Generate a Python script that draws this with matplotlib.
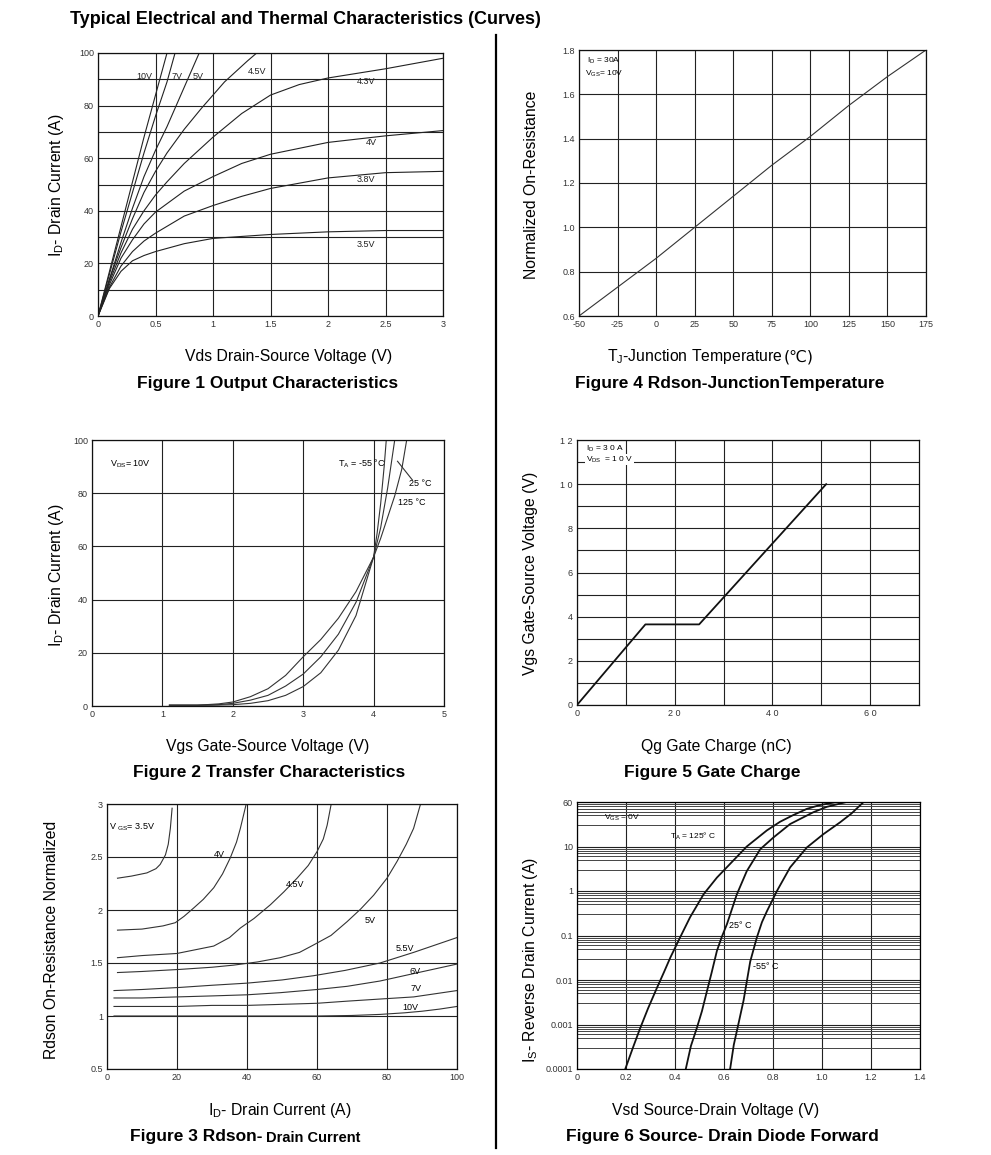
import numpy as np
import matplotlib
matplotlib.use('Agg')
import matplotlib.pyplot as plt
from matplotlib.ticker import FixedLocator, NullFormatter

plt.rcParams['font.family'] = ['Liberation Sans', 'DejaVu Sans']
plt.rcParams['mathtext.fontset'] = 'custom'
plt.rcParams['mathtext.rm'] = 'Liberation Sans'
plt.rcParams['mathtext.it'] = 'Liberation Sans'
plt.rcParams['axes.unicode_minus'] = False

W, H = 991, 1155

# ---- Figure 1: output characteristics (Vds, Id) per Vgs ----
out_curves = {
    '10V': ([0, 0.1, 0.2, 0.3, 0.4, 0.5, 0.6], [0, 17, 34, 51, 68, 84, 100]),
    '7V': ([0, 0.1, 0.2, 0.3, 0.4, 0.5, 0.6, 0.67], [0, 16, 32, 47, 62, 76, 89, 100]),
    '5V': ([0, 0.1, 0.2, 0.3, 0.4, 0.5, 0.6, 0.7, 0.8, 0.88], [0, 14, 28, 41, 53, 63, 72, 82, 92, 100]),
    '4.5V': ([0, 0.1, 0.2, 0.3, 0.4, 0.5, 0.6, 0.75, 0.9, 1.0, 1.1, 1.2, 1.3, 1.38],
             [0, 14, 26, 37, 47, 55, 62, 71, 79, 84, 89, 93, 97, 100]),
    '4.3V': ([0, 0.1, 0.2, 0.3, 0.4, 0.5, 0.6, 0.75, 1.0, 1.25, 1.5, 1.75, 2.0, 2.5, 3.0],
             [0, 13, 24, 33, 40, 46, 51, 58, 68, 77, 84, 88, 90.5, 94, 98]),
    '4V': ([0, 0.1, 0.2, 0.3, 0.4, 0.5, 0.75, 1.0, 1.25, 1.5, 2.0, 2.5, 3.0],
           [0, 12, 22, 29, 35, 39.5, 47.5, 53, 58, 61.5, 66, 68.5, 70.5]),
    '3.8V': ([0, 0.1, 0.2, 0.3, 0.4, 0.5, 0.75, 1.0, 1.25, 1.5, 2.0, 2.5, 3.0],
             [0, 11, 19, 24.5, 28.5, 31.5, 38, 42, 45.5, 48.5, 52.5, 54.5, 55]),
    '3.5V': ([0, 0.1, 0.2, 0.3, 0.4, 0.5, 0.75, 1.0, 1.5, 2.0, 2.5, 3.0],
             [0, 10.5, 17, 21, 23, 24.5, 27.5, 29.5, 31, 32, 32.5, 32.5]),
}
out_labels = {'10V': (0.33, 91), '7V': (0.64, 91), '5V': (0.82, 91), '4.5V': (1.3, 93),
              '4.3V': (2.25, 89), '4V': (2.33, 66), '3.8V': (2.25, 52), '3.5V': (2.25, 27)}

# ---- Figure 4: normalized Rdson vs junction temperature ----
tj = [-50, -25, 0, 25, 50, 75, 100, 125, 150, 175]
rdson_norm = [0.6, 0.73, 0.86, 1.0, 1.14, 1.28, 1.41, 1.55, 1.68, 1.8]

# ---- Figure 2: transfer characteristics (Vgs, Id) per temperature ----
tr_curves = {
    '125': ([1.1, 1.5, 1.8, 2.0, 2.25, 2.5, 2.75, 3.0, 3.25, 3.5, 3.75, 4.0, 4.1, 4.2, 4.3, 4.4, 4.47],
            [0.3, 0.3, 0.8, 1.5, 3.5, 6.5, 11.5, 18.5, 25, 33, 43, 56, 63, 71, 79, 89, 100]),
    '25': ([1.1, 1.5, 1.8, 2.0, 2.25, 2.5, 2.75, 3.0, 3.25, 3.5, 3.75, 4.0, 4.1, 4.2, 4.3],
           [0.3, 0.3, 0.5, 1.0, 2.2, 4.0, 7.5, 12, 18.5, 27, 39, 56, 67, 82, 100]),
    '-55': ([1.1, 1.7, 2.0, 2.25, 2.5, 2.75, 3.0, 3.25, 3.5, 3.75, 4.0, 4.05, 4.1, 4.15, 4.18],
            [0.3, 0.3, 0.5, 1.0, 2.0, 4.0, 7.3, 12.5, 21, 34, 56, 65, 76, 90, 100]),
}

# ---- Figure 5: gate charge ----
qg = [0, 14, 25, 51]
vgs_qg = [0, 3.65, 3.65, 10]

# ---- Figure 3: Rdson vs drain current per Vgs ----
rd_curves = {
    '3.5V': ([3, 7, 11.4, 14, 15.2, 16.7, 17.5, 18.1, 18.6], [2.30, 2.32, 2.35, 2.39, 2.43, 2.52, 2.62, 2.77, 2.96]),
    '4V': ([3, 10, 16, 19.5, 22, 24.8, 27.5, 30.5, 33, 35.2, 37, 38.1, 39.7],
           [1.81, 1.82, 1.85, 1.88, 1.94, 2.02, 2.10, 2.21, 2.34, 2.49, 2.64, 2.77, 2.99]),
    '4.5V': ([3, 10, 20, 26, 30.5, 35, 38.1, 42, 46.7, 50.5, 54.3, 57.5, 60, 61.8, 62.9, 64],
             [1.55, 1.57, 1.59, 1.63, 1.66, 1.74, 1.83, 1.92, 2.05, 2.17, 2.30, 2.42, 2.55, 2.67, 2.80, 2.99]),
    '5V': ([3, 10, 21, 30, 36.2, 43, 49.5, 55, 59, 64, 68.6, 72.5, 76.2, 80, 82.9, 85.5, 87.6, 89.5],
           [1.41, 1.42, 1.44, 1.46, 1.48, 1.51, 1.55, 1.60, 1.67, 1.76, 1.89, 2.01, 2.14, 2.30, 2.46, 2.62, 2.77, 2.99]),
    '5.5V': ([2, 10, 21, 30, 40, 50, 59, 68, 78, 87.6, 100], [1.24, 1.25, 1.27, 1.29, 1.31, 1.34, 1.38, 1.43, 1.50, 1.60, 1.74]),
    '6V': ([2, 10, 20, 30.5, 40, 49.5, 60, 68.6, 78, 87.6, 100], [1.17, 1.17, 1.18, 1.19, 1.20, 1.22, 1.25, 1.28, 1.33, 1.40, 1.49]),
    '7V': ([2, 10, 20, 30, 40, 50, 60, 68.6, 78, 87.6, 100], [1.09, 1.09, 1.09, 1.10, 1.10, 1.11, 1.12, 1.14, 1.16, 1.18, 1.24]),
    '10V': ([2, 20, 40, 50, 60, 70, 78, 85, 90, 95, 100], [1.0, 1.0, 1.0, 1.0, 1.0, 1.005, 1.015, 1.03, 1.045, 1.065, 1.09]),
}
rd_labels = {'4V': (30.5, 2.52), '4.5V': (51, 2.24), '5V': (73.5, 1.9), '5.5V': (82.5, 1.64),
             '6V': (86.5, 1.42), '7V': (86.8, 1.26), '10V': (84.5, 1.08)}

# ---- Figure 6: source-drain diode forward (Vsd, Is) ----
diode_curves = {
    '125': ([0.197, 0.23, 0.258, 0.29, 0.326, 0.355, 0.381, 0.421, 0.462, 0.517, 0.571, 0.639, 0.693, 0.775, 0.829, 0.88, 0.938, 0.99, 1.06],
            [1e-4, 3.2e-4, 8.3e-4, 2.3e-3, 6.6e-3, 1.5e-2, 3.2e-2, 0.091, 0.26, 0.85, 2.0, 4.9, 10, 23, 36, 50, 70, 85, 100]),
    '25': ([0.444, 0.465, 0.489, 0.51, 0.530, 0.55, 0.571, 0.59, 0.612, 0.652, 0.693, 0.748, 0.802, 0.87, 0.965, 1.02, 1.1],
           [1e-4, 3.3e-4, 8.3e-4, 2.0e-3, 5.5e-3, 0.015, 0.045, 0.09, 0.18, 0.83, 2.8, 8.7, 16, 32, 59, 78, 100]),
    '-55': ([0.625, 0.64, 0.66, 0.68, 0.707, 0.734, 0.755, 0.775, 0.816, 0.87, 0.938, 1.006, 1.074, 1.12, 1.17],
            [1e-4, 3.5e-4, 1.1e-3, 3.5e-3, 0.026, 0.09, 0.2, 0.35, 1.0, 3.4, 9.5, 19, 35, 55, 100]),
}


def rect(l, t, r, b):
    return [l / W, 1 - b / H, (r - l) / W, (b - t) / H]


def style(ax, fs=6.5):
    for s in ax.spines.values():
        s.set_linewidth(0.9)
        s.set_color('#111111')
    ax.tick_params(which='both', length=0, labelsize=fs, colors='#333333', pad=3)
    ax.grid(which='both', color='#222222', linewidth=0.8)
    ax.set_axisbelow(True)


fig = plt.figure(figsize=(W / 100, H / 100), dpi=100)

lw = 0.8
cap = dict(fontsize=12.5, fontweight='bold', ha='center', va='center')
lab = dict(fontsize=11.3, ha='center', va='center')

# Figure 1
ax1 = fig.add_axes(rect(98, 53, 443, 316))
style(ax1)
for k, (x, y) in out_curves.items():
    ax1.plot(x, y, color='#222222', lw=lw)
    ax1.text(*out_labels[k], k, fontsize=6.5, ha='left', va='center', color='#222222')
ax1.set_xlim(0, 3)
ax1.set_ylim(0, 100)
ax1.set_xticks(np.arange(0, 3.01, 0.5))
ax1.set_xticklabels(['0', '0.5', '1', '1.5', '2', '2.5', '3'])
ax1.set_yticks([0, 20, 40, 60, 80, 100])
ax1.yaxis.set_minor_locator(FixedLocator([10, 30, 50, 70, 90]))
fig.text(57 / W, 1 - 185 / H, r'I$_\mathregular{D}$- Drain Current (A)', rotation=90, **lab)
fig.text(289 / W, 1 - 357 / H, 'Vds Drain-Source Voltage (V)', **lab)
fig.text(268 / W, 1 - 383 / H, 'Figure 1 Output Characteristics', **cap)

# Figure 4
ax4 = fig.add_axes(rect(579, 50, 926, 316))
style(ax4)
ax4.plot(tj, rdson_norm, color='#333333', lw=lw)
ax4.set_xlim(-50, 175)
ax4.set_ylim(0.6, 1.8)
ax4.set_xticks(tj)
ax4.set_yticks(np.round(np.arange(0.6, 1.81, 0.2), 1))
ax4.set_yticklabels(['0.6', '0.8', '1.0', '1.2', '1.4', '1.6', '1.8'])
ax4.text(-45, 1.75, r'I$_\mathregular{D}$ = 30A', fontsize=6, va='center')
ax4.text(-46, 1.69, r'V$_\mathregular{GS}$= 10V', fontsize=6, va='center')
fig.text(531 / W, 1 - 185 / H, 'Normalized On-Resistance', rotation=90, **lab)
tj_lab = fig.text(607 / W, 1 - 357 / H, r'T$_\mathregular{J}$-Junction Temperature', fontsize=11.3,
                  ha='left', va='center')
fig.text(730 / W, 1 - 383 / H, 'Figure 4 Rdson-JunctionTemperature', **cap)

# Figure 2
ax2 = fig.add_axes(rect(92, 440, 444, 706))
style(ax2)
for k, (x, y) in tr_curves.items():
    ax2.plot(x, y, color='#333333', lw=lw)
ax2.set_xlim(0, 5)
ax2.set_ylim(0, 100)
ax2.set_xticks([0, 1, 2, 3, 4, 5])
ax2.set_yticks([0, 20, 40, 60, 80, 100])
ax2.text(0.25, 91, r'V$_\mathregular{DS}$= 10V', fontsize=6.5, va='center')
ax2.text(4.17, 91, r'T$_\mathregular{A}$ = -55 °C', fontsize=6.5, va='center', ha='right')
ax2.plot([4.34, 4.55], [92, 85], color='#333333', lw=0.8)
ax2.text(4.5, 83.5, '25 °C', fontsize=6.5, va='center')
ax2.text(4.35, 76.5, '125 °C', fontsize=6.5, va='center')
fig.text(57 / W, 1 - 575 / H, r'I$_\mathregular{D}$- Drain Current (A)', rotation=90, **lab)
fig.text(268 / W, 1 - 746 / H, 'Vgs Gate-Source Voltage (V)', **lab)
fig.text(269 / W, 1 - 772 / H, 'Figure 2 Transfer Characteristics', **cap)

# Figure 5
ax5 = fig.add_axes(rect(577, 440, 919, 705))
style(ax5)
ax5.plot(qg, vgs_qg, color='#111111', lw=1.3)
ax5.set_xlim(0, 70)
ax5.set_ylim(0, 12)
ax5.set_xticks([0, 20, 40, 60])
ax5.set_xticklabels(['0', '2 0', '4 0', '6 0'])
ax5.xaxis.set_minor_locator(FixedLocator([10, 30, 50]))
ax5.set_yticks([0, 2, 4, 6, 8, 10, 12])
ax5.set_yticklabels(['0', '2', '4', '6', '8', '1 0', '1 2'])
ax5.yaxis.set_minor_locator(FixedLocator([1, 3, 5, 7, 9, 11]))
ax5.text(1.8, 11.6, r'I$_\mathregular{D}$ = 3 0 A', fontsize=6, va='center')
ax5.text(1.8, 11.1, r'V$_\mathregular{DS}$  = 1 0 V', fontsize=6, va='center',
         bbox=dict(facecolor='white', edgecolor='none', pad=0.3))
fig.text(531 / W, 1 - 573 / H, 'Vgs Gate-Source Voltage (V)', rotation=90, **lab)
fig.text(716 / W, 1 - 746 / H, 'Qg Gate Charge (nC)', **lab)
fig.text(712 / W, 1 - 772 / H, 'Figure 5 Gate Charge', **cap)

# Figure 3
ax3 = fig.add_axes(rect(107, 804, 457, 1069))
style(ax3)
for k, (x, y) in rd_curves.items():
    ax3.plot(x, y, color='#333333', lw=lw)
    if k in rd_labels:
        ax3.text(*rd_labels[k], k, fontsize=6.5, va='center')
ax3.text(0.5, 2.78, r'V $_\mathregular{GS}$= 3.5V', fontsize=6.5, va='center')
ax3.set_xlim(0, 100)
ax3.set_ylim(0.5, 3)
ax3.set_xticks([0, 20, 40, 60, 80, 100])
ax3.set_yticks([0.5, 1, 1.5, 2, 2.5, 3])
ax3.set_yticklabels(['0.5', '1', '1.5', '2', '2.5', '3'])
fig.text(52 / W, 1 - 940 / H, 'Rdson On-Resistance Normalized', rotation=90, **lab)
fig.text(280 / W, 1 - 1110 / H, r'I$_\mathregular{D}$- Drain Current (A)', **lab)
f3 = fig.text(130 / W, 1 - 1137 / H, 'Figure 3 Rdson-', fontsize=12.5, fontweight='bold', ha='left', va='center')

# Figure 6
ax6 = fig.add_axes(rect(577, 802, 920, 1069))
for s in ax6.spines.values():
    s.set_linewidth(0.9)
ax6.set_yscale('log')
for k, (x, y) in diode_curves.items():
    ax6.plot(x, y, color='#111111', lw=1.3)
ax6.set_xlim(0, 1.4)
ax6.set_ylim(1e-4, 100)
ax6.set_xticks(np.round(np.arange(0, 1.41, 0.2), 1))
ax6.set_xticklabels(['0', '0.2', '0.4', '0.6', '0.8', '1.0', '1.2', '1.4'])
ax6.yaxis.set_major_locator(FixedLocator([1e-4, 1e-3, 1e-2, 1e-1, 1, 10, 100]))
ax6.set_yticklabels(['0.0001', '0.001', '0.01', '0.1', '1', '10', '60'])
minor = [m * 10.0 ** d for d in range(-4, 2) for m in (3, 5, 6, 7, 8, 9)]
ax6.yaxis.set_minor_locator(FixedLocator(minor))
ax6.yaxis.set_minor_formatter(NullFormatter())
ax6.tick_params(which='both', length=0, labelsize=6.5, colors='#333333', pad=3)
ax6.grid(which='major', color='#222222', linewidth=0.8)
ax6.grid(which='minor', axis='y', color='#444444', linewidth=0.7)
ax6.set_axisbelow(True)
ax6.text(0.11, 45, r'V$_\mathregular{GS}$ = 0V', fontsize=6, va='center')
ax6.text(0.38, 16.5, r'T$_\mathregular{A}$ = 125° C', fontsize=6, va='center')
ax6.text(0.62, 0.17, '25° C', fontsize=6.5, va='center')
ax6.text(0.72, 0.02, '-55° C', fontsize=6.5, va='center')
fig.text(531 / W, 1 - 960 / H, r'I$_\mathregular{S}$- Reverse Drain Current (A)', rotation=90, **lab)
fig.text(716 / W, 1 - 1110 / H, 'Vsd Source-Drain Voltage (V)', **lab)
fig.text(722 / W, 1 - 1137 / H, 'Figure 6 Source- Drain Diode Forward', **cap)

# page title and divider
fig.text(70 / W, 1 - 20 / H, 'Typical Electrical and Thermal Characteristics (Curves)',
         fontsize=13, fontweight='bold', ha='left', va='center')
fig.add_artist(plt.Line2D([496 / W, 496 / W], [1 - 35 / H, 1 - 1148 / H], color='black', lw=1.6))

fig.canvas.draw()
rend = fig.canvas.get_renderer()
bb = tj_lab.get_window_extent(rend)
fig.text(bb.x1 / W + 1 / W, 1 - 357 / H, '(℃)', fontsize=11.3, family=['DejaVu Sans'],
         ha='left', va='center')
bb3 = f3.get_window_extent(rend)
fig.text(bb3.x1 / W + 4 / W, 1 - 1138 / H, 'Drain Current', fontsize=10.5, fontweight='bold',
         ha='left', va='center')

fig.savefig('out.png', dpi=100)
